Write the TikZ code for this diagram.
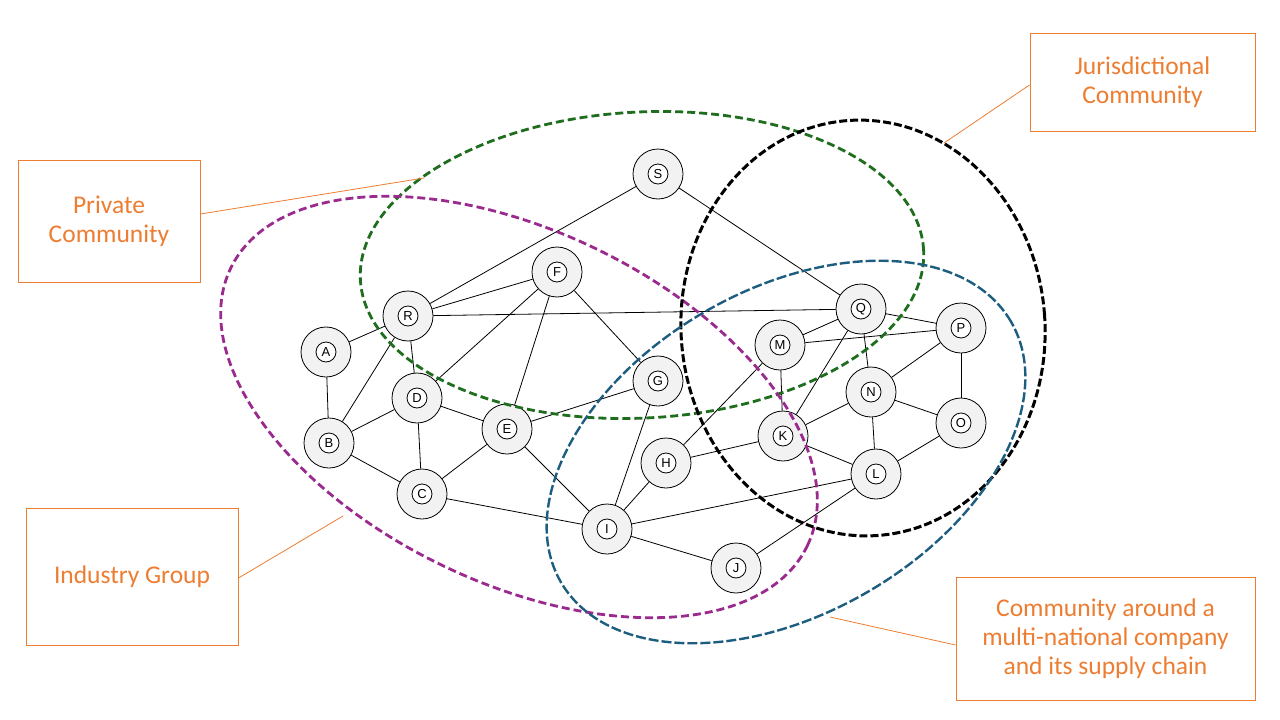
\documentclass[tikz,border=0pt]{standalone}
\usepackage{fontspec}
\setmainfont{Carlito}
\newfontfamily\nodefont{Liberation Sans}
\definecolor{calloutorange}{HTML}{ED7D31}
\definecolor{grpgreen}{HTML}{1E6E1E}
\definecolor{grppurple}{HTML}{9A2A8E}
\definecolor{grpblue}{HTML}{1D5E80}
\definecolor{nodegray}{HTML}{F2F2F2}
\begin{document}
\begin{tikzpicture}[x=1pt,y=-1pt,
  vertex/.style={circle,draw,fill=nodegray,line width=0.8pt,minimum size=50pt,inner sep=0pt,
    font=\nodefont\fontsize{13}{13}\selectfont,
    path picture={\draw[line width=0.8pt,fill=white] (path picture bounding box.center) circle (10pt);}},
  link/.style={line width=0.8pt},
  grp/.style={dash pattern=on 8pt off 4pt,line width=2.8pt},
  callout/.style={draw=calloutorange,line width=1pt,text=calloutorange,
    font=\fontsize{25.5}{29}\selectfont,align=center,inner sep=0pt},
  leader/.style={draw=calloutorange,line width=0.8pt}]
\useasboundingbox (0,0) rectangle (1280,720);
\fill[white] (0,0) rectangle (1280,720);
% nodes
\node[vertex] (S) at (658,174) {S};
\node[vertex] (F) at (557,272) {F};
\node[vertex] (R) at (408,316) {R};
\node[vertex] (A) at (326,352) {A};
\node[vertex] (D) at (417,398) {D};
\node[vertex] (B) at (329,443) {B};
\node[vertex] (E) at (507,429) {E};
\node[vertex] (C) at (422,494) {C};
\node[vertex] (G) at (658,381) {G};
\node[vertex] (H) at (666,463) {H};
\node[vertex] (I) at (607,529) {I};
\node[vertex] (J) at (736,568) {J};
\node[vertex] (K) at (783,436) {K};
\node[vertex] (M) at (780,345) {M};
\node[vertex] (Q) at (861,309) {Q};
\node[vertex] (P) at (961,328) {P};
\node[vertex] (N) at (871,392) {N};
\node[vertex] (O) at (961,423) {O};
\node[vertex] (L) at (876,474) {L};
% links
\foreach \u/\v in {S/R,S/Q,R/F,R/A,R/B,R/D,R/Q,F/D,F/E,F/G,A/B,B/D,B/C,D/C,D/E,E/C,E/G,E/I,
  C/I,G/I,H/I,H/M,H/K,I/L,I/J,J/L,K/M,K/Q,K/N,K/L,M/Q,M/P,Q/P,Q/N,N/P,N/O,N/L,P/O,L/O}
  \draw[link] (\u) -- (\v);
% groups
\draw[grp,draw=grpgreen,rotate around={3:(642,265)}] (642,265) ellipse [x radius=282pt,y radius=153pt];
\draw[grp,draw=grppurple,rotate around={-25.7:(519,407)}] (519,407) ellipse [x radius=320pt,y radius=176pt];
\draw[grp,draw=black,line width=3pt,dash pattern=on 8pt off 3pt,rotate around={4:(863,328)}] (863,328) ellipse [x radius=182pt,y radius=208pt];
\draw[grp,draw=grpblue,line width=2.4pt,dash pattern=on 10pt off 3pt,rotate around={30:(786,452)}] (786,452) ellipse [x radius=260pt,y radius=162pt];
% callouts
\node[callout,minimum width=182pt,minimum height=122pt] (privbox) at (109,221) {Private\\Community};
\node[callout,minimum width=225pt,minimum height=98pt] (jurbox) at (1142.5,82) {Jurisdictional\\Community};
\node[callout,minimum width=212pt,minimum height=137pt] (indbox) at (132,576.5) {Industry Group};
\node[callout,minimum width=299pt,minimum height=123pt] (mncbox) at (1105.5,638.5) {Community around a\\multi-national company\\and its supply chain};
\coordinate (privtip) at (424,178);
\coordinate (jurtip) at (944,143);
\coordinate (indtip) at (343,516);
\coordinate (mnctip) at (830,617);
\draw[leader] ([yshift=7pt]privbox.east) -- (privtip);
\draw[leader] ([yshift=-3pt]jurbox.west) -- (jurtip);
\draw[leader] ([yshift=-1.5pt]indbox.east) -- (indtip);
\draw[leader] ([yshift=-6.5pt]mncbox.west) -- (mnctip);
\end{tikzpicture}
\end{document}
